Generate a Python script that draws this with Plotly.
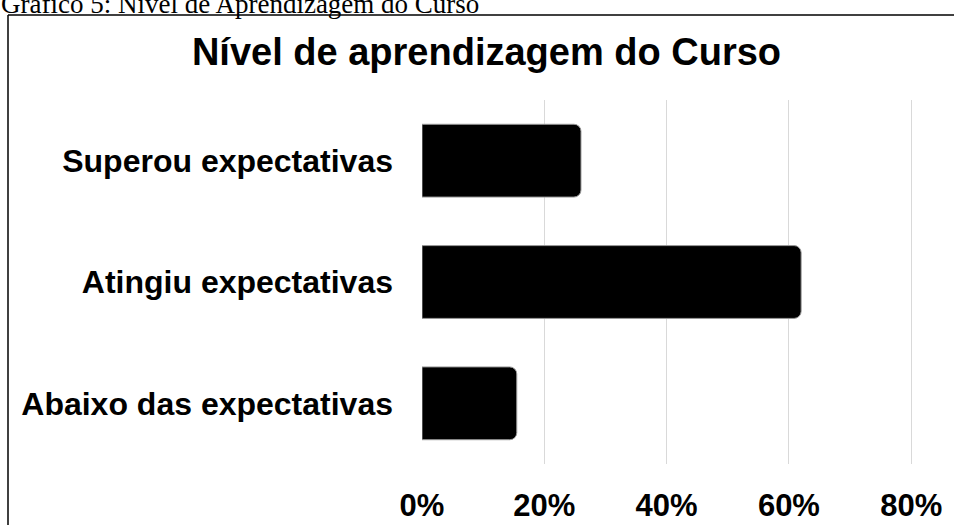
import plotly.graph_objects as go

# data (share of answers)
categorias = ["Abaixo das expectativas", "Atingiu expectativas", "Superou expectativas"]
valores = [0.155, 0.62, 0.26]
ticks_x = [0, 0.2, 0.4, 0.6, 0.8]
rotulos_x = ["0%", "20%", "40%", "60%", "80%"]

W, H = 954, 525
ML, MR, MT, MB = 422, 0, 100, 61
x_max = 0.87

fig = go.Figure()
fig.add_trace(go.Bar(
    x=valores,
    y=categorias,
    orientation="h",
    marker=dict(color="#000000", line=dict(color="#9a9a9a", width=1), cornerradius=7),
    hoverinfo="x+y",
))

# frame around the chart, drawn in paper units of the plot area
pw, ph = W - ML - MR, H - MT - MB
def px_x(p):
    return (p - ML) / pw
def px_y(p):
    return (H - MB - p) / ph

fig.add_shape(type="line", xref="paper", yref="paper",
              x0=px_x(8), x1=px_x(W + 5), y0=px_y(15), y1=px_y(15),
              line=dict(color="#000000", width=1.5))
fig.add_shape(type="line", xref="paper", yref="paper",
              x0=px_x(8), x1=px_x(8), y0=px_y(15), y1=px_y(H + 5),
              line=dict(color="#000000", width=1.5))

fig.add_annotation(
    text="Gráfico 5: Nível de Aprendizagem do Curso",
    xref="paper", yref="paper", x=px_x(-1), y=px_y(-13),
    xanchor="left", yanchor="top", showarrow=False,
    font=dict(family="Liberation Serif, Times New Roman, serif", size=27, color="#000000"),
)

fig.update_layout(
    width=W, height=H,
    margin=dict(l=ML, r=MR, t=MT, b=MB, pad=0),
    paper_bgcolor="white", plot_bgcolor="white",
    bargap=0.4,
    showlegend=False,
    font=dict(family="Liberation Sans, Arial, sans-serif", color="#000000"),
    title=dict(
        text="<b>Nível de aprendizagem do Curso</b>",
        xref="container", yref="container", x=486.5 / W, y=1 - 52 / H,
        xanchor="center", yanchor="middle",
        font=dict(size=38, color="#000000"),
    ),
)
fig.update_xaxes(
    range=[0, x_max], tickvals=ticks_x, ticktext=["<b>%s</b>" % t for t in rotulos_x],
    showgrid=True, gridcolor="#d9d9d9", gridwidth=1, zeroline=False,
    showline=False, ticks="", tickfont=dict(size=31), ticklabelstandoff=20,
)
fig.update_yaxes(
    categoryorder="array", categoryarray=categorias,
    tickvals=categorias, ticktext=["<b>%s</b>" % c for c in categorias],
    showgrid=False, zeroline=False, showline=False, ticks="",
    tickfont=dict(size=32), ticklabelstandoff=28,
)

# page margin off so the figure sits at the window's top-left corner
fig.write_html("out.html", config={"displayModeBar": False},
               post_script="document.body.style.margin='0';")
